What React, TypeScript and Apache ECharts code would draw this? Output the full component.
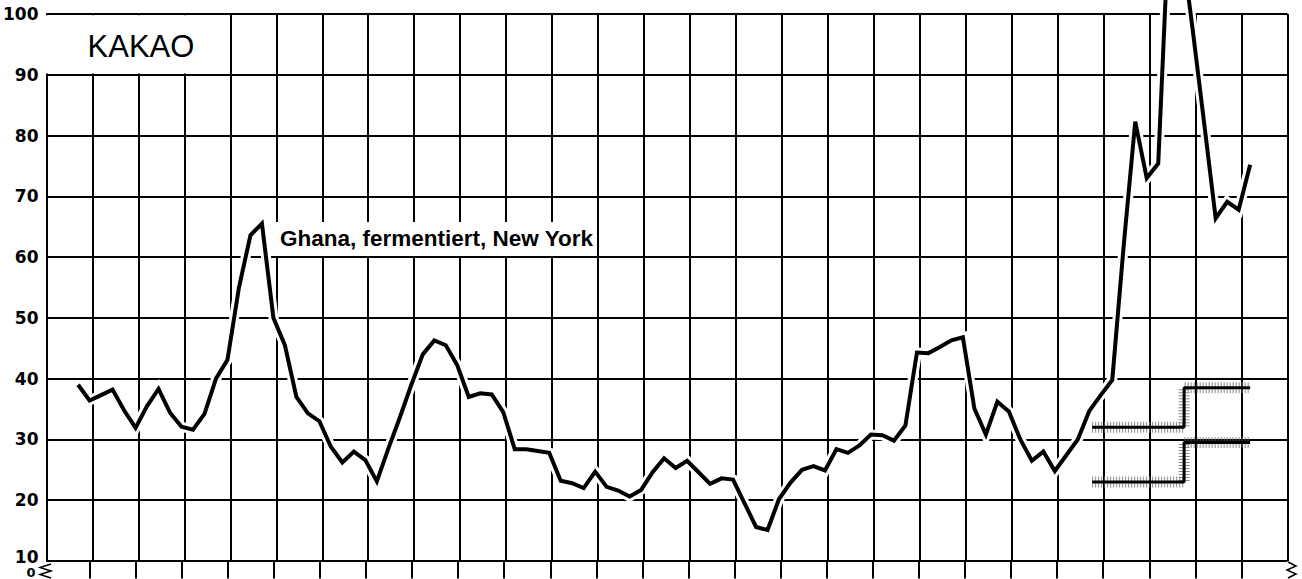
import React, { useEffect, useRef } from "react";
import * as echarts from "echarts";

// Time runs in quarter-cell steps across 27 grid cells (a vertical rule every 4 steps)
const timeMin = 0;
const timeMax = 108;
const timeRule = 4;
const seriesStartStep = 2.75;

// Kakao, Ghana, fermentiert, New York (US-cents/lb), consecutive observations
const ghanaNewYork: number[] = [
  39.0, 36.4, 37.3, 38.2, 34.8, 31.9, 35.5, 38.3, 34.4, 32.1,
  31.6, 34.2, 40.0, 43.1, 55.0, 63.6, 65.5, 50.0, 45.5, 37.0,
  34.3, 33.0, 28.8, 26.2, 28.0, 26.6, 23.1, 28.5, 33.6, 39.0,
  44.0, 46.3, 45.5, 42.2, 37.0, 37.6, 37.4, 34.5, 28.4, 28.4,
  28.1, 27.8, 23.2, 22.8, 22.0, 24.7, 22.2, 21.6, 20.6, 21.7,
  24.6, 26.9, 25.3, 26.5, 24.6, 22.7, 23.6, 23.4, 19.5, 15.6,
  15.1, 20.2, 22.9, 25.0, 25.6, 24.9, 28.4, 27.8, 29.0, 30.8,
  30.7, 29.8, 32.3, 44.3, 44.2, 45.2, 46.3, 46.8, 35.1, 30.8,
  36.2, 34.6, 30.0, 26.5, 28.0, 24.8, 27.4, 30.0, 34.7, 37.3,
  39.8, 62.0, 82.3, 73.0, 75.4, 118.0, 112.0, 97.4, 82.0, 66.4,
  69.1, 67.8, 75.2,
];

// Price range of the cocoa agreement (min / max), two periods
const agreementSteps = [91, 99, 104.75];
const agreementMin = [23, 29.5];
const agreementMax = [32, 38.5];

const yMin = 10;
const yMax = 100;
const yInterval = 10;

const INK = "#000";
const GRID_W = 2;

export default function App() {
  const ref = useRef<HTMLDivElement>(null);

  useEffect(() => {
    if (!ref.current) return;
    const chart = echarts.init(ref.current, undefined, { renderer: "svg" });

    const mainData = ghanaNewYork.map((v, i) => [seriesStartStep + i, v]);
    const bandData = (vals: number[]) => [
      [agreementSteps[0], vals[0]],
      [agreementSteps[1], vals[1]],
      [agreementSteps[2], vals[1]],
    ];

    const gridLeft = 43.5;
    const gridRight = 14.5;
    const haloStyle = { color: "#6e6e6e", width: 11, type: [1, 2], opacity: 0.8 };

    chart.setOption({
      animation: false,
      backgroundColor: "#fff",
      grid: [
        { left: gridLeft, right: gridRight, top: 14, bottom: 18 },
        { left: gridLeft, right: gridRight, top: 561, bottom: 0 },
      ],
      xAxis: [
        {
          type: "value",
          gridIndex: 0,
          min: timeMin,
          max: timeMax,
          interval: timeRule,
          axisLine: { show: false },
          axisTick: { show: false },
          axisLabel: { show: false },
          splitLine: { show: true, lineStyle: { color: INK, width: GRID_W } },
        },
        {
          type: "value",
          gridIndex: 1,
          min: timeMin,
          max: timeMax,
          interval: timeRule,
          axisLine: { show: false },
          axisTick: { show: false },
          axisLabel: { show: false },
          splitLine: {
            show: true,
            showMinLine: false,
            showMaxLine: false,
            lineStyle: { color: INK, width: GRID_W },
          },
        },
      ],
      yAxis: [
        {
          type: "value",
          gridIndex: 0,
          min: yMin,
          max: yMax,
          interval: yInterval,
          axisLine: { show: true, lineStyle: { color: INK, width: GRID_W } },
          axisTick: { show: false },
          axisLabel: {
            color: INK,
            fontFamily: "DejaVu Sans",
            fontWeight: "bold",
            fontSize: 17,
            margin: 8,
            formatter: (v: number) => (v === yMin ? "{low|" + v + "}" : String(v)),
            rich: {
              low: {
                fontFamily: "DejaVu Sans",
                fontWeight: "bold",
                fontSize: 17,
                lineHeight: 15,
                color: INK,
                padding: [0, 0, 9, 0],
              },
            },
          },
          splitLine: { show: true, lineStyle: { color: INK, width: GRID_W } },
        },
        {
          type: "value",
          gridIndex: 1,
          min: 0,
          max: 1,
          interval: 1,
          axisLine: { show: false },
          axisTick: { show: false },
          axisLabel: {
            color: INK,
            fontFamily: "DejaVu Sans",
            fontWeight: "bold",
            fontSize: 13,
            margin: 8,
            verticalAlign: "bottom",
            lineHeight: 12,
            formatter: (v: number) => (v === 0 ? "0" : ""),
          },
          splitLine: { show: false },
        },
      ],
      series: [
        {
          type: "line",
          name: "halo",
          data: mainData,
          clip: false,
          symbol: "none",
          silent: true,
          lineStyle: { color: "#fff", width: 10, join: "miter", cap: "butt" },
          z: 2,
        },
        {
          type: "line",
          name: "minHalo",
          data: bandData(agreementMin),
          step: "end",
          symbol: "none",
          silent: true,
          lineStyle: haloStyle,
          z: 3,
        },
        {
          type: "line",
          name: "maxHalo",
          data: bandData(agreementMax),
          step: "end",
          symbol: "none",
          silent: true,
          lineStyle: haloStyle,
          z: 3,
        },
        {
          type: "line",
          name: "Mindestpreis",
          data: bandData(agreementMin),
          step: "end",
          symbol: "none",
          lineStyle: { color: INK, width: 3 },
          z: 4,
        },
        {
          type: "line",
          name: "Höchstpreis",
          data: bandData(agreementMax),
          step: "end",
          symbol: "none",
          lineStyle: { color: INK, width: 3 },
          z: 4,
        },
        {
          type: "line",
          name: "Ghana, fermentiert, New York",
          data: mainData,
          clip: false,
          symbol: "none",
          lineStyle: { color: INK, width: 4, join: "miter", cap: "butt" },
          z: 5,
        },
      ],
      graphic: [
        {
          type: "rect",
          z: 20,
          shape: { x: 44.8, y: 15.2, width: 181.6, height: 58.4 },
          style: { fill: "#fff" },
        },
        {
          type: "text",
          z: 21,
          x: 141,
          y: 46,
          style: {
            text: "KAKAO",
            fill: INK,
            font: "500 31px 'Liberation Sans'",
            align: "center",
            verticalAlign: "middle",
          },
        },
        {
          type: "rect",
          z: 20,
          shape: { x: 276, y: 222, width: 319, height: 34 },
          style: { fill: "#fff" },
        },
        {
          type: "text",
          z: 21,
          x: 280,
          y: 238,
          style: {
            text: "Ghana, fermentiert, New York",
            fill: INK,
            font: "bold 22.5px 'Liberation Sans'",
            align: "left",
            verticalAlign: "middle",
          },
        },
        {
          type: "polyline",
          z: 21,
          shape: { points: [[51, 564], [40, 567.5], [51, 571], [40, 574.5], [51, 578]] },
          style: { stroke: INK, lineWidth: 1.5, fill: "none" },
        },
        {
          type: "polyline",
          z: 21,
          shape: { points: [[1288, 562], [1296, 566], [1287, 570], [1296, 574], [1288, 578]] },
          style: { stroke: INK, lineWidth: 1.5, fill: "none" },
        },
      ],
    });

    return () => chart.dispose();
  }, []);

  return (
    <div
      ref={ref}
      style={{ position: "fixed", left: 0, top: 0, width: 1302, height: 579, background: "#fff" }}
    />
  );
}
